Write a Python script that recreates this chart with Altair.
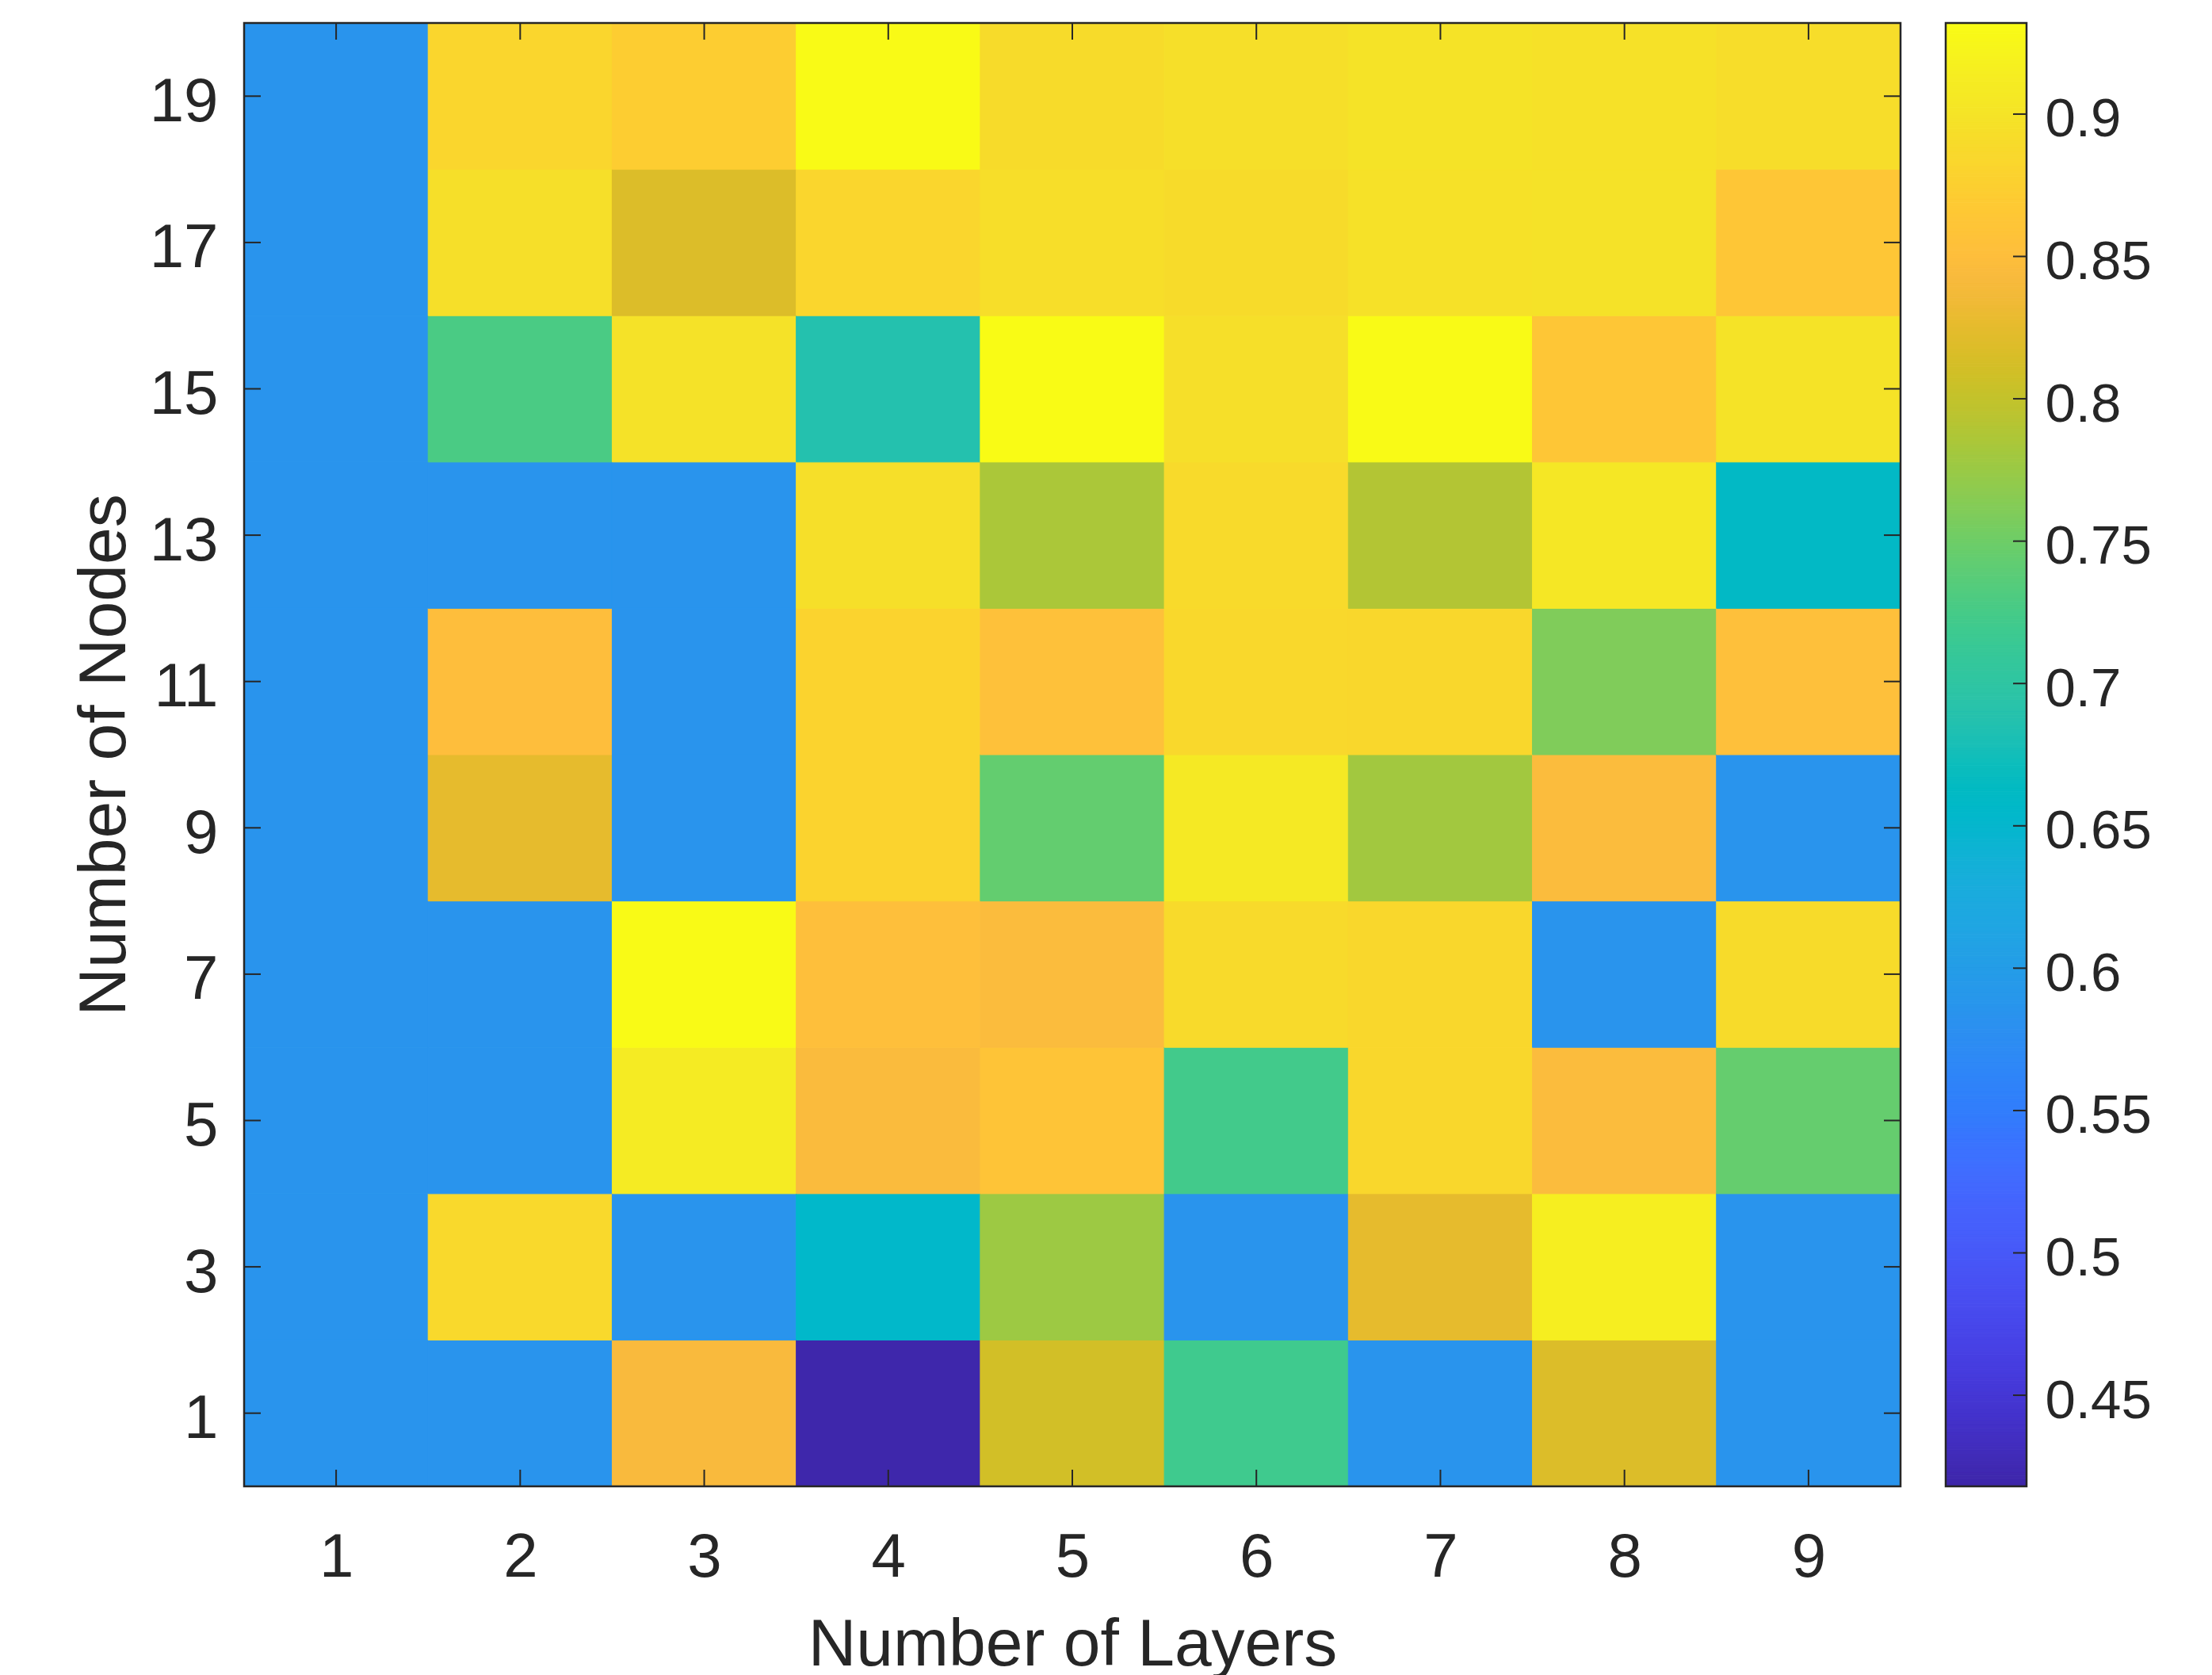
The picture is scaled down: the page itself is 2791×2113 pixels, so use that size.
import altair as alt
import numpy as np
import pandas as pd

# ---------------- data ----------------
layers = [1, 2, 3, 4, 5, 6, 7, 8, 9]
nodes = [1, 3, 5, 7, 9, 11, 13, 15, 17, 19]
# accuracy per layer, listed for nodes 1,3,...,19
acc_l1 = [0.585, 0.585, 0.585, 0.585, 0.585, 0.585, 0.585, 0.585, 0.585, 0.585]
acc_l2 = [0.585, 0.887, 0.585, 0.585, 0.826, 0.851, 0.585, 0.728, 0.895, 0.883]
acc_l3 = [0.843, 0.585, 0.910, 0.930, 0.585, 0.585, 0.585, 0.898, 0.818, 0.872]
acc_l4 = [0.420, 0.655, 0.845, 0.852, 0.880, 0.880, 0.895, 0.687, 0.883, 0.930]
acc_l5 = [0.810, 0.777, 0.860, 0.846, 0.744, 0.855, 0.785, 0.932, 0.893, 0.890]
acc_l6 = [0.720, 0.585, 0.722, 0.888, 0.908, 0.886, 0.888, 0.895, 0.890, 0.895]
acc_l7 = [0.585, 0.826, 0.885, 0.885, 0.780, 0.885, 0.790, 0.930, 0.897, 0.900]
acc_l8 = [0.818, 0.915, 0.846, 0.585, 0.846, 0.760, 0.905, 0.863, 0.898, 0.897]
acc_l9 = [0.585, 0.585, 0.745, 0.890, 0.585, 0.853, 0.660, 0.900, 0.862, 0.892]
acc_by_layer = [acc_l1, acc_l2, acc_l3, acc_l4, acc_l5, acc_l6, acc_l7, acc_l8, acc_l9]

x_ticks = [1, 2, 3, 4, 5, 6, 7, 8, 9]
y_ticks = [1, 3, 5, 7, 9, 11, 13, 15, 17, 19]
cbar_ticks = [0.45, 0.5, 0.55, 0.6, 0.65, 0.7, 0.75, 0.8, 0.85, 0.9]
cmin, cmax = 0.418, 0.932

# ---------------- parula colormap ----------------
parula = [
    (0.2422, 0.1504, 0.6603), (0.2504, 0.1650, 0.7076), (0.2578, 0.1818, 0.7511), (0.2647, 0.1978, 0.7952),
    (0.2706, 0.2147, 0.8364), (0.2751, 0.2342, 0.8710), (0.2783, 0.2559, 0.8991), (0.2803, 0.2782, 0.9221),
    (0.2813, 0.3006, 0.9414), (0.2810, 0.3228, 0.9579), (0.2795, 0.3447, 0.9717), (0.2760, 0.3667, 0.9829),
    (0.2699, 0.3892, 0.9906), (0.2602, 0.4123, 0.9952), (0.2440, 0.4358, 0.9988), (0.2206, 0.4603, 0.9973),
    (0.1963, 0.4847, 0.9892), (0.1834, 0.5074, 0.9798), (0.1786, 0.5289, 0.9682), (0.1764, 0.5499, 0.9520),
    (0.1687, 0.5703, 0.9359), (0.1540, 0.5902, 0.9218), (0.1460, 0.6091, 0.9079), (0.1380, 0.6276, 0.8973),
    (0.1248, 0.6459, 0.8883), (0.1113, 0.6635, 0.8763), (0.0952, 0.6798, 0.8598), (0.0689, 0.6948, 0.8394),
    (0.0297, 0.7082, 0.8163), (0.0036, 0.7203, 0.7917), (0.0067, 0.7312, 0.7660), (0.0433, 0.7411, 0.7394),
    (0.0964, 0.7500, 0.7120), (0.1408, 0.7584, 0.6842), (0.1717, 0.7670, 0.6554), (0.1938, 0.7758, 0.6251),
    (0.2161, 0.7843, 0.5923), (0.2470, 0.7918, 0.5567), (0.2906, 0.7973, 0.5188), (0.3406, 0.8008, 0.4789),
    (0.3909, 0.8029, 0.4354), (0.4456, 0.8024, 0.3909), (0.5044, 0.7993, 0.3480), (0.5616, 0.7942, 0.3045),
    (0.6174, 0.7876, 0.2612), (0.6720, 0.7793, 0.2227), (0.7242, 0.7698, 0.1910), (0.7738, 0.7598, 0.1646),
    (0.8203, 0.7498, 0.1535), (0.8634, 0.7406, 0.1596), (0.9035, 0.7330, 0.1774), (0.9393, 0.7288, 0.2100),
    (0.9728, 0.7298, 0.2394), (0.9956, 0.7434, 0.2371), (0.9970, 0.7659, 0.2199), (0.9952, 0.7893, 0.2028),
    (0.9892, 0.8136, 0.1885), (0.9786, 0.8386, 0.1766), (0.9676, 0.8639, 0.1643), (0.9610, 0.8890, 0.1537),
    (0.9597, 0.9135, 0.1423), (0.9628, 0.9373, 0.1265), (0.9691, 0.9606, 0.1064), (0.9769, 0.9839, 0.0805),
]
parula_hex = ["#%02x%02x%02x" % tuple(int(round(c * 255)) for c in rgb) for rgb in parula]
parula_dom = [float(v) for v in np.linspace(cmin, cmax, len(parula_hex))]
color_scale = alt.Scale(domain=parula_dom, range=parula_hex, clamp=True, interpolate="rgb")

# ---------------- layout ----------------
W, H = 2090, 1846
CW = 102
TICK = 21
CTICK = 17
FONT = "Liberation Sans"
TXT = "#262626"

rows = []
for li, lay in enumerate(layers):
    for ni, nd in enumerate(nodes):
        rows.append({"layer": lay, "node": nd, "acc": acc_by_layer[li][ni]})
df = pd.DataFrame(rows)

xt = pd.DataFrame({"v": x_ticks})
yt = pd.DataFrame({"v": y_ticks})
one = pd.DataFrame({"k": [0]})

x_scale = alt.Scale(domain=[0.5, 9.5], nice=False, zero=False)
y_scale = alt.Scale(domain=[0, 20], nice=False, zero=False)

x_axis = alt.Axis(values=x_ticks, title="Number of Layers", grid=False, domain=False, ticks=False,
                  tickSize=0, labelPadding=51, labelFontSize=78, labelFont=FONT, labelColor=TXT,
                  titleFont=FONT, titleFontSize=84, titleFontWeight="normal", titleColor=TXT,
                  titleBaseline="alphabetic", titleY=225)
y_axis = alt.Axis(values=y_ticks, title="Number of Nodes", grid=False, domain=False, ticks=False,
                  tickSize=0, labelPadding=33, labelFontSize=78, labelFont=FONT, labelColor=TXT,
                  labelOffset=8,
                  titleFont=FONT, titleFontSize=84, titleFontWeight="normal", titleColor=TXT,
                  titleBaseline="alphabetic", titleAngle=270, titleX=-151)

heat = alt.Chart(df).transform_calculate(
    x0="datum.layer - 0.5", x1="datum.layer + 0.5",
    y0="datum.node - 1", y1="datum.node + 1",
).mark_rect(strokeWidth=1).encode(
    x=alt.X("x0:Q", scale=x_scale, axis=x_axis),
    x2="x1:Q",
    y=alt.Y("y0:Q", scale=y_scale, axis=y_axis),
    y2="y1:Q",
    color=alt.Color("acc:Q", scale=color_scale, legend=None),
    stroke=alt.Stroke("acc:Q", scale=color_scale, legend=None),
)

border = alt.Chart(one).mark_rect(filled=False, stroke=TXT, strokeWidth=2.5).encode(
    x=alt.value(0), x2=alt.value(W), y=alt.value(0), y2=alt.value(H)
)

xt_top = alt.Chart(xt).mark_rule(color=TXT, strokeWidth=2).encode(
    x=alt.X("v:Q", scale=x_scale, axis=x_axis), y=alt.value(0), y2=alt.value(TICK))
xt_bot = alt.Chart(xt).mark_rule(color=TXT, strokeWidth=2).encode(
    x=alt.X("v:Q", scale=x_scale, axis=x_axis), y=alt.value(H), y2=alt.value(H - TICK))
yt_left = alt.Chart(yt).mark_rule(color=TXT, strokeWidth=2).encode(
    y=alt.Y("v:Q", scale=y_scale, axis=y_axis), x=alt.value(0), x2=alt.value(TICK))
yt_right = alt.Chart(yt).mark_rule(color=TXT, strokeWidth=2).encode(
    y=alt.Y("v:Q", scale=y_scale, axis=y_axis), x=alt.value(W), x2=alt.value(W - TICK))

main = alt.layer(heat, border, xt_top, xt_bot, yt_left, yt_right).properties(width=W, height=H)

# ---------------- colorbar ----------------
nb = 400
edges = np.linspace(cmin, cmax, nb + 1)
grad = pd.DataFrame({"v": edges[:-1], "v2": edges[1:], "c": (edges[:-1] + edges[1:]) / 2})
ct = pd.DataFrame({"v": cbar_ticks})

c_scale = alt.Scale(domain=[cmin, cmax], nice=False, zero=False)
c_axis = alt.Axis(values=cbar_ticks, orient="right", title=None, grid=False, domain=False, ticks=False,
                  tickSize=0, labelPadding=23, labelFontSize=69, labelFont=FONT, labelColor=TXT,
                  labelOffset=7, labelFlush=False, labelOverlap=False, format=".2~f")

bands = alt.Chart(grad).mark_rect(strokeWidth=1).encode(
    x=alt.value(0), x2=alt.value(CW),
    y=alt.Y("v:Q", scale=c_scale, axis=c_axis), y2="v2:Q",
    color=alt.Color("c:Q", scale=color_scale, legend=None),
    stroke=alt.Stroke("c:Q", scale=color_scale, legend=None),
)
cborder = alt.Chart(one).mark_rect(filled=False, stroke=TXT, strokeWidth=2.5).encode(
    x=alt.value(0), x2=alt.value(CW), y=alt.value(0), y2=alt.value(H)
)
cticks = alt.Chart(ct).mark_rule(color=TXT, strokeWidth=2).encode(
    y=alt.Y("v:Q", scale=c_scale, axis=c_axis), x=alt.value(CW - CTICK), x2=alt.value(CW))

cbar = alt.layer(bands, cborder, cticks).properties(width=CW, height=H)

chart = alt.hconcat(main, cbar, spacing=53).properties(
    padding={"left": 82, "top": 19, "right": 5, "bottom": 5},
    background="white",
).configure_view(stroke=None).resolve_scale(y="independent")

chart.save("out.html", embed_options={"renderer": "svg", "actions": False})
